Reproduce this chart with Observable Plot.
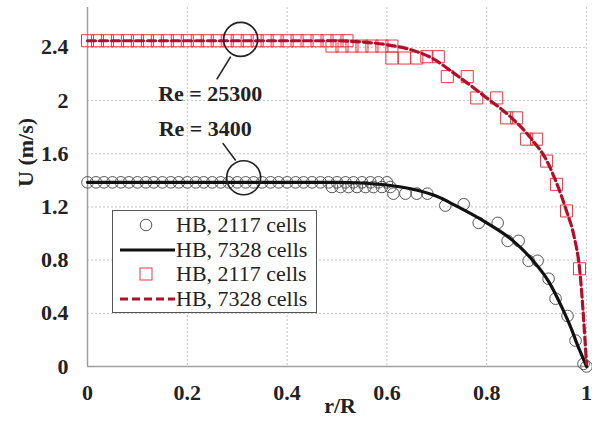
<!DOCTYPE html>
<html>
<head>
<meta charset="utf-8">
<script src="https://cdn.jsdelivr.net/npm/d3@7"></script>
<script src="https://cdn.jsdelivr.net/npm/@observablehq/plot@0.6"></script>
</head>
<body style="margin:0;padding:0;background:#fff">
<div id="wrap" style="position:relative;width:592px;height:437px;font-family:'Liberation Serif'"></div>
<script>
// ---- data ----
const xTicks = [0, 0.2, 0.4, 0.6, 0.8, 1];
const yTicks = [0, 0.4, 0.8, 1.2, 1.6, 2, 2.4];

// Re = 3400, HB 2117 cells (circles)
const blackCircR = [0,0.017,0.033,0.05,0.067,0.083,0.1,0.117,0.133,0.15,0.167,0.183,0.2,0.217,0.233,0.25,0.267,0.283,0.3,0.317,0.333,0.35,0.367,0.383,0.4,0.417,0.433,0.45,0.467,0.483,0.5,0.517,0.533,0.55,0.567,0.583,0.6,
  0.49,0.507,0.523,0.54,0.557,0.573,0.59,0.607,
  0.613,0.637,0.66,0.681,
  0.717,0.754,0.784,0.822,0.842,0.864,0.884,0.902,0.924,0.938,0.962,0.978,0.994,1.0];
const blackCircU = [1.385,1.385,1.385,1.385,1.385,1.385,1.385,1.385,1.385,1.385,1.385,1.385,1.385,1.385,1.385,1.385,1.385,1.385,1.385,1.385,1.385,1.385,1.385,1.385,1.385,1.385,1.385,1.385,1.385,1.385,1.385,1.385,1.385,1.385,1.385,1.385,1.385,
  1.35,1.35,1.35,1.35,1.35,1.35,1.35,1.35,
  1.30,1.30,1.30,1.30,
  1.21,1.22,1.08,1.08,0.945,0.945,0.795,0.795,0.66,0.51,0.38,0.195,0.02,0.0];

// Re = 3400, HB 7328 cells (solid line)
const blackLineR = [0, 0.5, 0.55, 0.6, 0.65, 0.7, 0.735, 0.8, 0.853, 0.893, 0.924, 0.95, 0.97, 0.98, 0.99, 1.0];
const blackLineU = [1.385, 1.385, 1.38, 1.365, 1.335, 1.28, 1.215, 1.08, 0.945, 0.795, 0.64, 0.45, 0.28, 0.18, 0.09, 0.0];

// Re = 25300, HB 2117 cells (squares)
const redSqR = [0,0.02,0.04,0.06,0.08,0.1,0.12,0.14,0.16,0.18,0.2,0.22,0.24,0.26,0.28,0.3,0.32,0.34,0.36,0.38,0.4,0.42,0.44,0.46,0.48,0.5,0.52,
  0.49,0.51,0.53,0.55,0.57,0.59,0.61,
  0.61,0.635,0.66,0.68,0.703,
  0.721,0.761,0.78,0.82,0.84,0.86,0.88,0.90,0.92,0.94,0.96,0.986];
const redSqU = [2.45,2.45,2.45,2.45,2.45,2.45,2.45,2.45,2.45,2.45,2.45,2.45,2.45,2.45,2.45,2.45,2.45,2.45,2.45,2.45,2.45,2.45,2.45,2.45,2.45,2.45,2.45,
  2.41,2.41,2.41,2.41,2.41,2.41,2.41,
  2.32,2.32,2.32,2.33,2.33,
  2.18,2.18,2.02,2.02,1.87,1.87,1.71,1.71,1.545,1.37,1.17,0.735];

// Re = 25300, HB 7328 cells (dashed line)
const redLineR = [0, 0.5, 0.55, 0.6, 0.65, 0.69, 0.74, 0.8, 0.85, 0.89, 0.92, 0.94, 0.96, 0.975, 0.986, 1.0];
const redLineU = [2.45, 2.45, 2.44, 2.42, 2.38, 2.32, 2.19, 2.02, 1.87, 1.71, 1.55, 1.38, 1.17, 0.98, 0.74, 0.02];

// annotations
const annoText = ["Re = 25300", "Re = 3400"];
const annoTextR = [0.246, 0.236];
const annoTextU = [2.05, 1.785];
const annoCircR = [0.307, 0.313];
const annoCircU = [2.46, 1.42];
const annoLinkR1 = [0.287, 0.271];
const annoLinkU1 = [2.33, 1.68];
const annoLinkR2 = [0.259, 0.297];
const annoLinkU2 = [2.16, 1.55];

// legend
const legendLabels = ["HB, 2117 cells", "HB, 7328 cells", "HB, 2117 cells", "HB, 7328 cells"];
const legendKinds = ["circle", "line", "square", "dash"];

// ---- build tables ----
const zip = (a, b) => a.map((v, i) => ({r: v, u: b[i]}));
const blackCirc = zip(blackCircR, blackCircU);
const blackLine = zip(blackLineR, blackLineU);
const redSq = zip(redSqR, redSqU);
const redLine = zip(redLineR, redLineU);
const annos = annoText.map((t, i) => ({
  t, tr: annoTextR[i], tu: annoTextU[i], cr: annoCircR[i], cu: annoCircU[i],
  r1: annoLinkR1[i], u1: annoLinkU1[i], r2: annoLinkR2[i], u2: annoLinkU2[i]
}));

const FONT = "Liberation Serif";
const RED = "#e8393f";
const DARKRED = "#b0102a";

const chart = Plot.plot({
  width: 592,
  height: 437,
  marginLeft: 87,
  marginRight: 6,
  marginTop: 7,
  marginBottom: 71,
  style: { fontFamily: FONT, background: "#fff", color: "#222" },
  x: { domain: [0, 1] },
  y: { domain: [0, 2.7] },
  marks: [
    Plot.ruleY(yTicks.filter(d => d > 0), { stroke: "#c4c4c4", strokeDasharray: "2,2", strokeWidth: 1 }),
    Plot.ruleX(xTicks.filter(d => d > 0), { stroke: "#c4c4c4", strokeDasharray: "2,2", strokeWidth: 1 }),
    Plot.ruleY([0], { stroke: "#a0a0a0", strokeWidth: 1.5 }),
    Plot.ruleX([0], { stroke: "#a0a0a0", strokeWidth: 1.5 }),
    Plot.axisX({ ticks: xTicks, tickFormat: d => String(d), tickSize: 0, tickPadding: 18, fontSize: 22, fontWeight: "bold", fontFamily: FONT, label: null }),
    Plot.axisY({ ticks: yTicks, tickFormat: d => String(d), tickSize: 0, tickPadding: 19, fontSize: 22, fontWeight: "bold", fontFamily: FONT, label: null }),
    Plot.text(["U (m/s)"], { frameAnchor: "left", rotate: -90, dx: -62, fontSize: 22, fontWeight: "bold", fontFamily: FONT }),
    Plot.text(["r/R"], { frameAnchor: "bottom", dy: 46, dx: 3, fontSize: 22, fontWeight: "bold", fontFamily: FONT }),
    // black
    Plot.dot(blackCirc, { x: "r", y: "u", r: 5.8, stroke: "#555", strokeWidth: 1, fill: "none" }),
    Plot.line(blackLine, { x: "r", y: "u", stroke: "#111", strokeWidth: 3.2, curve: "monotone-x" }),
    // red
    Plot.dot(redSq, { x: "r", y: "u", symbol: "square", r: 6.8, stroke: RED, strokeWidth: 1, fill: "none" }),
    Plot.line(redLine, { x: "r", y: "u", stroke: DARKRED, strokeWidth: 3.2, strokeDasharray: "8,4", curve: "monotone-x" }),
    // annotations
    Plot.dot(annos, { x: "cr", y: "cu", r: 17, stroke: "#222", strokeWidth: 1.6, fill: "none" }),
    Plot.link(annos, { x1: "r1", y1: "u1", x2: "r2", y2: "u2", stroke: "#222", strokeWidth: 1.6 }),
    Plot.text(annos, { x: "tr", y: "tu", text: "t", fontSize: 22, fontWeight: "bold", fill: "#222", fontFamily: FONT })
  ]
});

const wrap = document.getElementById("wrap");
wrap.appendChild(chart);

// legend overlay
const legend = document.createElement("div");
legend.style.cssText = "position:absolute;left:112px;top:210px;width:205px;height:103px;border:1px solid #555;background:#fff;box-sizing:border-box;padding-top:2px;font-family:'Liberation Serif'";
const symbolSvg = {
  circle: `<svg width="62" height="20" style="flex:none"><circle cx="33" cy="10" r="5.8" fill="none" stroke="#555" stroke-width="1"/></svg>`,
  line: `<svg width="62" height="20" style="flex:none"><line x1="7" y1="10" x2="62" y2="10" stroke="#111" stroke-width="3.2"/></svg>`,
  square: `<svg width="62" height="20" style="flex:none"><rect x="27" y="4" width="12" height="12" fill="none" stroke="${RED}" stroke-width="1"/></svg>`,
  dash: `<svg width="62" height="20" style="flex:none"><line x1="7" y1="10" x2="62" y2="10" stroke="${DARKRED}" stroke-width="3.2" stroke-dasharray="8,4"/></svg>`
};
legendLabels.forEach((lab, i) => {
  const row = document.createElement("div");
  row.style.cssText = "display:flex;align-items:center;height:24.5px";
  row.innerHTML = symbolSvg[legendKinds[i]] +
    `<span style="font-family:'Liberation Serif';font-size:22px;color:#222;white-space:nowrap;margin-left:1px;line-height:1">${lab}</span>`;
  legend.appendChild(row);
});
wrap.appendChild(legend);
</script>
</body>
</html>
